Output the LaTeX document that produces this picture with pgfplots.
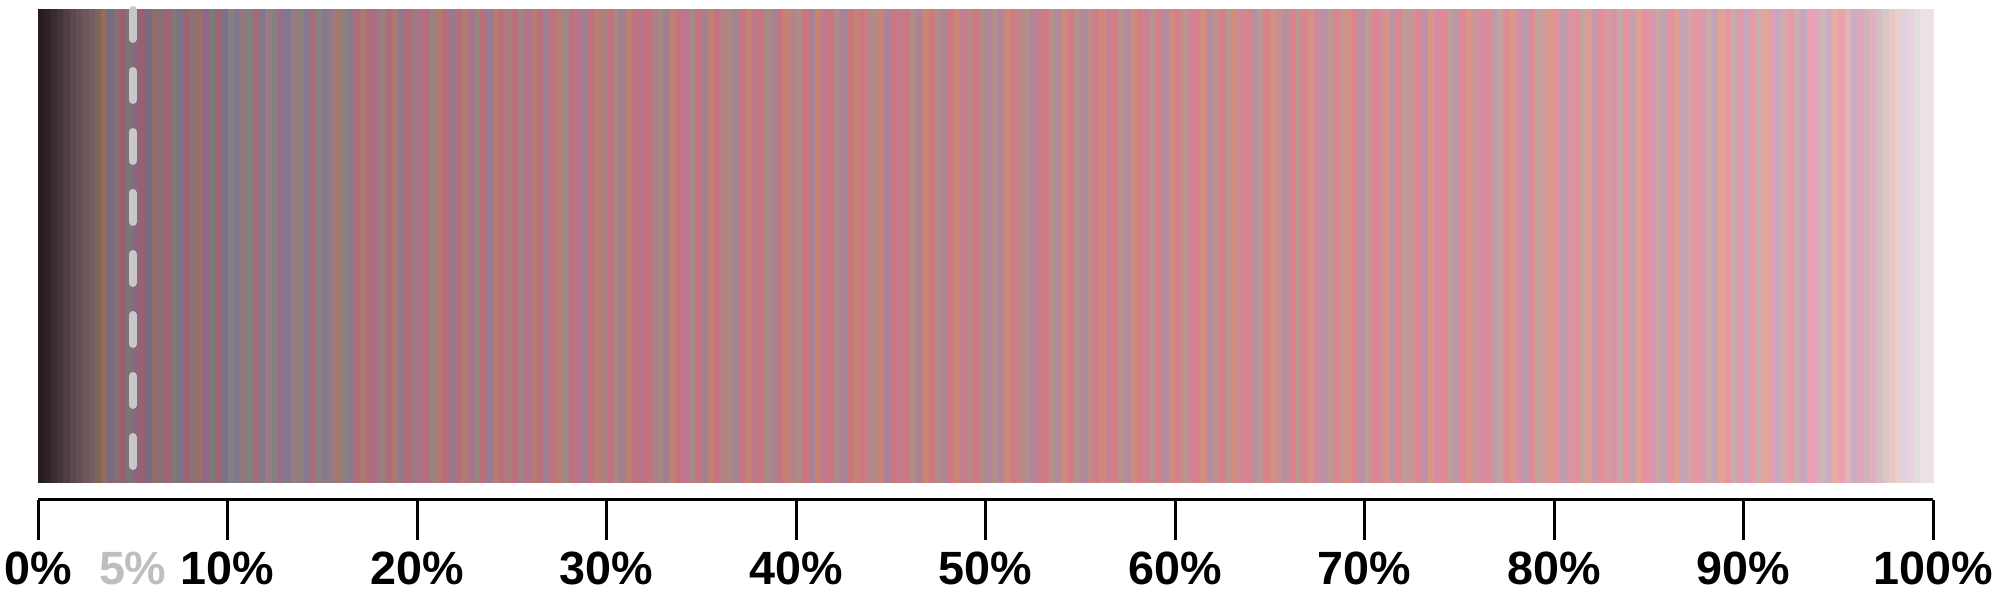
\documentclass[border=0pt]{standalone}
\usepackage{fontspec}
\setmainfont{Liberation Sans}
\usepackage{pgfplots}
\usepackage{pgfplotstable}
\pgfplotsset{compat=1.18}
\definecolor{dashgray}{RGB}{200,200,200}
\definecolor{labgray}{RGB}{190,190,190}
\pgfdeclareplotmark{stripe}{\pgfpathrectangle{\pgfpointorigin}{\pgfpoint{2.12pt}{142.2pt}}\pgfusepath{fill}}
\pgfplotstableread{
i y c
0 0 38,28,34
1 0 46,34,40
2 0 56,43,49
3 0 67,52,58
4 0 79,62,67
5 0 91,71,76
6 0 101,79,84
7 0 110,86,90
8 0 118,93,97
9 0 128,100,88
10 0 147,109,99
11 0 118,109,133
12 0 135,110,116
13 0 152,96,112
14 0 123,117,118
15 0 142,100,127
16 0 152,96,112
17 0 118,109,133
18 0 147,109,99
19 0 135,110,116
20 0 157,100,115
21 0 128,121,121
22 0 123,113,136
23 0 157,100,115
24 0 140,114,119
25 0 152,113,102
26 0 147,104,130
27 0 128,121,121
28 0 157,100,115
29 0 123,113,136
30 0 134,127,128
31 0 129,119,143
32 0 146,120,126
33 0 134,127,128
34 0 163,106,122
35 0 129,119,143
36 0 152,126,132
37 0 134,127,128
38 0 153,110,137
39 0 129,119,143
40 0 152,122,127
41 0 140,129,129
42 0 135,121,144
43 0 169,108,123
44 0 140,129,129
45 0 135,121,144
46 0 152,122,127
47 0 164,121,110
48 0 140,129,129
49 0 135,121,144
50 0 177,108,122
51 0 172,121,109
52 0 177,108,122
53 0 167,112,137
54 0 148,129,128
55 0 177,108,122
56 0 172,121,109
57 0 143,121,143
58 0 177,108,122
59 0 160,122,126
60 0 172,114,138
61 0 182,110,123
62 0 153,131,129
63 0 177,123,110
64 0 182,110,123
65 0 148,123,144
66 0 182,110,123
67 0 177,123,110
68 0 172,114,138
69 0 153,131,129
70 0 187,111,124
71 0 153,124,145
72 0 182,124,111
73 0 187,111,124
74 0 170,125,128
75 0 187,111,124
76 0 158,132,130
77 0 177,115,139
78 0 182,124,111
79 0 187,111,124
80 0 157,126,146
81 0 191,113,125
82 0 186,126,112
83 0 162,134,131
84 0 191,113,125
85 0 181,117,140
86 0 157,126,146
87 0 191,113,125
88 0 186,126,112
89 0 174,127,129
90 0 194,114,126
91 0 165,135,132
92 0 160,127,147
93 0 189,127,113
94 0 194,114,126
95 0 184,118,141
96 0 194,114,126
97 0 177,128,130
98 0 165,135,132
99 0 160,127,147
100 0 192,129,114
101 0 197,116,127
102 0 187,120,142
103 0 168,137,133
104 0 197,116,127
105 0 163,129,148
106 0 192,129,114
107 0 197,116,127
108 0 180,130,131
109 0 168,137,133
110 0 166,130,149
111 0 200,117,128
112 0 195,130,115
113 0 190,121,143
114 0 200,117,128
115 0 171,138,134
116 0 166,130,149
117 0 200,117,128
118 0 195,130,115
119 0 183,131,132
120 0 173,139,135
121 0 202,118,129
122 0 168,131,150
123 0 197,131,116
124 0 192,122,144
125 0 202,118,129
126 0 173,139,135
127 0 168,131,150
128 0 202,118,129
129 0 197,131,116
130 0 204,119,129
131 0 187,133,133
132 0 175,140,135
133 0 199,132,116
134 0 170,132,150
135 0 204,119,129
136 0 194,123,144
137 0 204,119,129
138 0 175,140,135
139 0 170,132,150
140 0 201,133,117
141 0 206,120,130
142 0 177,141,136
143 0 172,133,151
144 0 206,120,130
145 0 201,133,117
146 0 196,124,145
147 0 189,134,134
148 0 206,120,130
149 0 177,141,136
150 0 174,135,153
151 0 179,143,138
152 0 174,135,153
153 0 203,135,119
154 0 208,122,132
155 0 191,136,136
156 0 179,143,138
157 0 174,135,153
158 0 198,126,147
159 0 208,122,132
160 0 181,145,140
161 0 176,137,155
162 0 205,137,121
163 0 210,124,134
164 0 181,145,140
165 0 176,137,155
166 0 193,138,138
167 0 210,124,134
168 0 205,137,121
169 0 200,128,149
170 0 212,126,136
171 0 183,147,142
172 0 178,139,157
173 0 207,139,123
174 0 212,126,136
175 0 202,130,151
176 0 183,147,142
177 0 212,126,136
178 0 178,139,157
179 0 207,139,123
180 0 214,128,138
181 0 185,149,144
182 0 204,132,153
183 0 214,128,138
184 0 209,141,125
185 0 180,141,159
186 0 197,142,142
187 0 214,128,138
188 0 185,149,144
189 0 209,141,125
190 0 206,134,155
191 0 216,130,140
192 0 182,143,161
193 0 187,151,146
194 0 216,130,140
195 0 211,143,127
196 0 199,144,144
197 0 182,143,161
198 0 216,130,140
199 0 187,151,146
200 0 218,132,143
201 0 213,145,130
202 0 208,136,158
203 0 184,145,164
204 0 189,153,149
205 0 218,132,143
206 0 201,146,147
207 0 213,145,130
208 0 218,132,143
209 0 184,145,164
210 0 191,155,151
211 0 220,134,145
212 0 210,138,160
213 0 215,147,132
214 0 186,147,166
215 0 220,134,145
216 0 191,155,151
217 0 203,148,149
218 0 220,134,145
219 0 186,147,166
220 0 217,150,135
221 0 212,141,163
222 0 222,137,148
223 0 193,158,154
224 0 188,150,169
225 0 222,137,148
226 0 217,150,135
227 0 205,151,152
228 0 212,141,163
229 0 222,137,148
230 0 190,153,172
231 0 195,161,157
232 0 224,140,151
233 0 219,153,138
234 0 214,144,166
235 0 190,153,172
236 0 224,140,151
237 0 195,161,157
238 0 207,154,155
239 0 219,153,138
240 0 226,143,154
241 0 192,156,175
242 0 216,147,169
243 0 226,143,154
244 0 197,164,160
245 0 221,156,141
246 0 192,156,175
247 0 226,143,154
248 0 209,157,158
249 0 216,147,169
250 0 199,167,164
251 0 228,146,158
252 0 194,159,179
253 0 223,159,145
254 0 228,146,158
255 0 218,150,173
256 0 199,167,164
257 0 194,159,179
258 0 228,146,158
259 0 223,159,145
260 0 196,163,183
261 0 213,164,166
262 0 230,150,162
263 0 220,154,177
264 0 201,171,168
265 0 196,163,183
266 0 225,163,149
267 0 230,150,162
268 0 201,171,168
269 0 220,154,177
270 0 198,167,187
271 0 232,154,166
272 0 203,175,172
273 0 227,167,153
274 0 222,158,181
275 0 198,167,187
276 0 215,168,170
277 0 232,154,166
278 0 203,175,172
279 0 198,167,187
280 0 235,161,174
281 0 225,165,189
282 0 206,182,180
283 0 201,174,195
284 0 230,174,161
285 0 235,161,174
286 0 224,181,184
287 0 201,174,195
288 0 225,165,189
289 0 206,182,180
290 0 224,176,191
291 0 213,188,199
292 0 218,198,197
293 0 232,200,193
294 0 231,208,210
295 0 221,210,221
296 0 235,208,222
297 0 226,222,221
298 0 236,225,227
299 0 235,226,228
}\stripes
\begin{document}
\begin{tikzpicture}
\begin{axis}[
  set layers,
  scale only axis,
  width=568.5pt, height=147.3pt,
  xmin=0, xmax=300, ymin=-5.1, ymax=142.2,
  axis x line*=bottom, axis y line=none,
  x axis line style={-, line width=0.9pt, black},
  xtick={0,30,60,90,120,150,180,210,240,270,300},
  xticklabels={0\%,10\%,20\%,30\%,40\%,50\%,60\%,70\%,80\%,90\%,100\%},
  xtick align=outside,
  major tick length=12pt,
  xtick style={line width=0.9pt, black},
  extra x ticks={15},
  extra x tick labels={5\%},
  extra x tick style={xtick style={draw=none}, xticklabel style={text=labgray}},
  ticklabel style={font=\fontsize{14}{16}\selectfont\bfseries},
  clip=false,
]
\addplot[scatter, only marks, mark=stripe,
  point meta=explicit symbolic,
  scatter/@pre marker code/.code={%
    \edef\temp{\noexpand\definecolor{mapped color}{RGB}{\pgfplotspointmeta}}\temp
    \scope[fill=mapped color, draw=none]},
  scatter/@post marker code/.code={\endscope}]
  table[x=i, y=y, meta=c] {\stripes};
\addplot[on layer=axis foreground, draw=dashgray, line width=2.4pt, line cap=round, dash pattern=on 8.7pt off 9.6pt]
  coordinates {(15,141.9) (15,0)};
\coordinate (bl) at (axis cs:-6.016,-36);
\coordinate (tr) at (axis cs:310.61,144.9);
\end{axis}
\pgfresetboundingbox
\path[use as bounding box] (bl) rectangle (tr);
\end{tikzpicture}
\end{document}
